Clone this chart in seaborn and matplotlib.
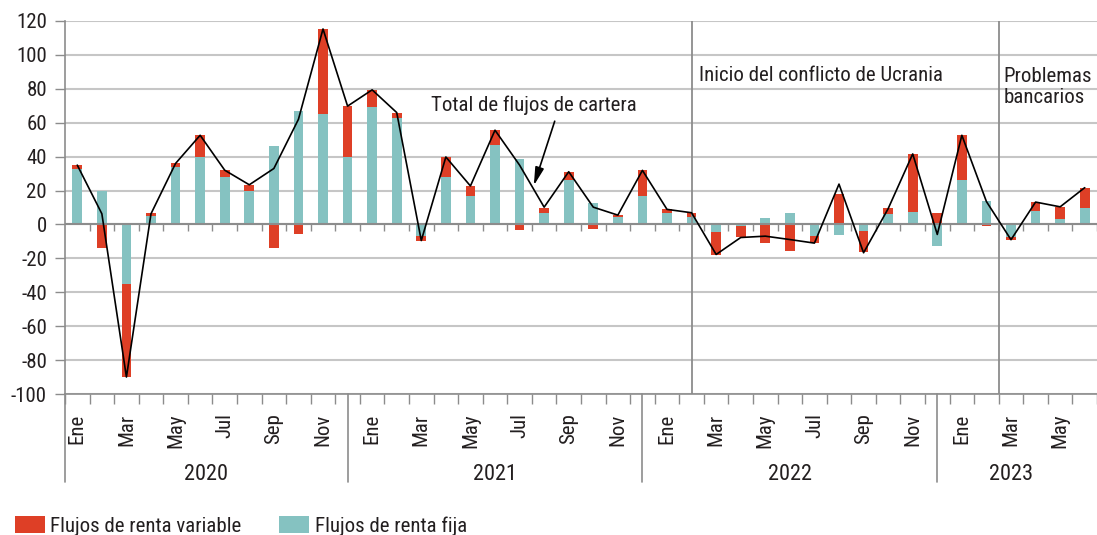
import matplotlib
matplotlib.use("Agg")
import numpy as np
import pandas as pd
import seaborn as sns
from matplotlib import pyplot as plt
from matplotlib import font_manager
from matplotlib.patches import Patch

# monthly portfolio flows, Jan 2020 - Jun 2023
month_names = ["Ene", "Feb", "Mar", "Abr", "May", "Jun",
               "Jul", "Ago", "Sep", "Oct", "Nov", "Dic"]
months = month_names * 3 + month_names[:6]
years = ["2020", "2021", "2022", "2023"]

renta_fija = [33, 20, -35, 5, 34, 40, 28, 20, 46.5, 67, 65, 39.5,
              69, 63, -7, 28, 17, 47, 38.5, 7, 26, 12.5, 4.5, 17,
              7, 4.5, -4.5, -1, 4, 6.5, -7, -6.5, -4, 6, 7.5, -13,
              26.5, 14, -7.5, 8, 3.5, 9.5]
renta_variable = [2, -14, -55, 1.5, 2, 12.5, 4, 3.5, -14, -5.5, 50.5, 30.5,
                  10.5, 3, -2.5, 11.5, 5.5, 8.5, -3.5, 3, 5, -2.5, 1, 15,
                  2, 2.5, -13.5, -6.5, -11, -15.5, -4, 18, -12.5, 4, 34, 7,
                  26, -1, -1.5, 5, 7, 12]
total_cartera = [35, 6.3, -90, 6.3, 36, 52.6, 32, 23.4, 33, 62, 115.3, 69.8,
                 79.4, 66, -9.5, 39.8, 22.7, 55.6, 35, 10.2, 31.1, 10.2, 5.5, 31.9,
                 8.9, 6.9, -17.7, -7.7, -6.9, -8.9, -11, 23.8, -16.7, 9.3, 41.6, -5.9,
                 52.6, 13.5, -9, 13.2, 10.4, 21.7]

RED = "#DE3F26"
TEAL = "#85C2C1"
GRID = "#C6C6C6"
AXIS = "#8C8C8C"
TXT = "#231F20"

# the original uses a condensed face; take one if the system has it
fonts = font_manager.fontManager.ttflist
names = {f.name for f in fonts}
family, stretch, FS = "Liberation Sans", "normal", 13
for nm in ["Liberation Sans Narrow", "Roboto Condensed", "Open Sans Condensed"]:
    if nm in names:
        family, FS = nm, 15
        break
else:
    for nm in ["Noto Sans", "DejaVu Sans", "Open Sans", "Roboto"]:
        if any(f.name == nm and f.stretch in ("condensed", "semi-condensed", 300, 400) for f in fonts):
            family, stretch, FS = nm, "condensed", 14
            break

sns.set_theme(style="white")
plt.rcParams["font.family"] = [family, "DejaVu Sans"]
plt.rcParams["font.stretch"] = stretch
plt.rcParams["axes.unicode_minus"] = False
plt.rcParams["text.color"] = TXT
plt.rcParams["xtick.color"] = TXT
plt.rcParams["ytick.color"] = TXT

n = len(renta_fija)
fija = np.array(renta_fija, dtype=float)
var = np.array(renta_variable, dtype=float)
# red part stacks on the teal part when both have the same sign
same_sign = np.sign(fija) == np.sign(var)
var_outer = np.where(same_sign, fija + var, var)

df = pd.DataFrame({"mes": np.arange(n), "fija": fija,
                   "var_outer": var_outer, "total": total_cartera})

fig = plt.figure(figsize=(10.97, 5.35), dpi=100)
ax = fig.add_axes([65 / 1097, 1 - 394 / 535, 1032 / 1097, 373 / 535])

sns.barplot(data=df, x="mes", y="var_outer", color=RED, width=0.4,
            saturation=1, errorbar=None, linewidth=0, ax=ax)
sns.barplot(data=df, x="mes", y="fija", color=TEAL, width=0.4,
            saturation=1, errorbar=None, linewidth=0, ax=ax)
sns.lineplot(data=df, x="mes", y="total", color="black", linewidth=1.2, ax=ax)

ax.set_xlim(-0.5, 41.23)
ax.set_ylim(-100, 120)
ax.set_yticks(range(-100, 121, 20))
ax.yaxis.grid(True, color=GRID, linewidth=1.5)
ax.xaxis.grid(False)
ax.set_axisbelow(True)
ax.set_xlabel("")
ax.set_ylabel("")

ax.set_xticks(range(0, n, 2))
ax.set_xticklabels(months[::2])
ax.set_xticks(np.arange(-0.5, n, 1), minor=True)
ax.tick_params(axis="x", which="major", length=0, pad=14, labelrotation=90, labelsize=FS)
ax.tick_params(axis="x", which="minor", bottom=True, length=7, width=1, color=AXIS)
ax.tick_params(axis="y", left=True, length=7, width=1, color=AXIS, pad=6, labelsize=FS)

for side in ["top", "right"]:
    ax.spines[side].set_visible(False)
for side in ["left", "bottom"]:
    ax.spines[side].set_color(AXIS)
    ax.spines[side].set_linewidth(1.2)

# category axis at zero with its own little ticks
ax.axhline(0, color=AXIS, linewidth=1.5, zorder=1.5)
ax.vlines(np.arange(0.5, n, 1), 0, -4, color=AXIS, linewidth=1, zorder=1.5)

# event markers
ax.axvline(25, color=AXIS, linewidth=1.3, zorder=1.5)
ax.axvline(37.5, color=AXIS, linewidth=1.3, zorder=1.5)
ax.text(25.3, 88, "Inicio del conflicto de Ucrania", fontsize=FS, va="center", ha="left")
ax.text(37.7, 81, "Problemas\nbancarios", fontsize=FS, va="center", ha="left",
        linespacing=1.15)

ax.text(18.6, 70.3, "Total de flujos de cartera", fontsize=FS, ha="center", va="center")
ax.annotate("", xy=(18.58, 23), xytext=(19.43, 60.9),
            arrowprops=dict(arrowstyle="-|>,head_length=0.9,head_width=0.22",
                            color="black", lw=1.2, shrinkA=0, shrinkB=0))

# year groups under the month labels
xt = ax.get_xaxis_transform()
for s in [-0.5, 11, 23, 35]:
    ax.plot([s, s], [0, -0.236], transform=xt, clip_on=False, color=AXIS, linewidth=1.2)
for year, centre in zip(years, [5.25, 17, 29, 38]):
    ax.text(centre, -0.216, year, transform=xt, ha="center", va="center", fontsize=FS + 1)

handles = [Patch(facecolor=RED, edgecolor="none"), Patch(facecolor=TEAL, edgecolor="none")]
fig.legend(handles, ["Flujos de renta variable", "Flujos de renta fija"],
           loc="center left", bbox_to_anchor=(15 / 1097, 1 - 526 / 535), ncol=2,
           frameon=False, fontsize=FS, handlelength=1.45, handleheight=0.85,
           handletextpad=0.25, columnspacing=1.8, borderpad=0, borderaxespad=0)

fig.savefig("out.png", dpi=100)
